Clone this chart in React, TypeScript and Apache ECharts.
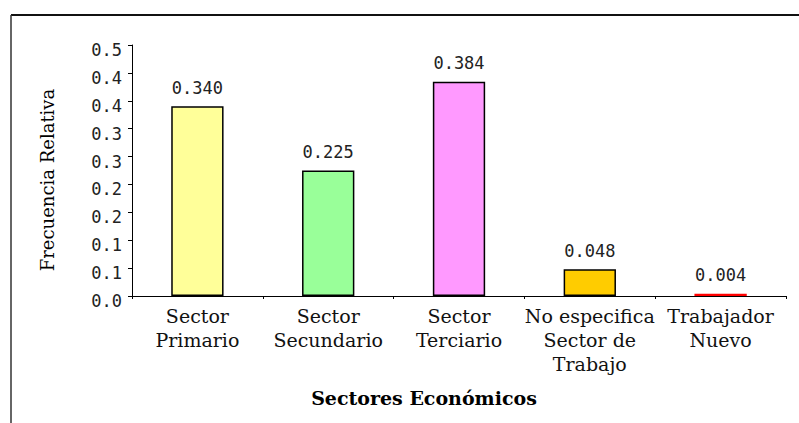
import React, { useEffect, useRef } from "react";
import * as echarts from "echarts";

const categories = [
  "Sector\nPrimario",
  "Sector\nSecundario",
  "Sector\nTerciario",
  "No especifica\nSector de\nTrabajo",
  "Trabajador\nNuevo",
];
const values = [0.34, 0.225, 0.384, 0.048, 0.004];
const barColors = ["#FFFF99", "#99FF99", "#FF99FF", "#FFCC00", "#FF0000"];
const barBorders = ["#000000", "#000000", "#000000", "#000000", "#FF0000"];
const yTickLabels = ["0.0", "0.1", "0.1", "0.2", "0.2", "0.3", "0.3", "0.4", "0.4", "0.5"];
const yTitle = "Frecuencia Relativa";
const xTitle = "Sectores Económicos";

export default function App() {
  const ref = useRef<HTMLDivElement>(null);
  useEffect(() => {
    if (!ref.current) return;
    const chart = echarts.init(ref.current, null, { renderer: "svg" });
    chart.setOption({
      animation: false,
      backgroundColor: "#ffffff",
      grid: { left: 132, right: 13, top: 45, bottom: 127, containLabel: false },
      xAxis: {
        type: "category",
        data: categories,
        axisLine: { lineStyle: { color: "#000", width: 1 } },
        axisTick: { show: true, length: 3, lineStyle: { color: "#000" } },
        axisLabel: {
          interval: 0,
          margin: 8,
          fontFamily: "DejaVu Serif",
          fontSize: 19,
          lineHeight: 24,
          color: "#111",
        },
      },
      yAxis: {
        type: "value",
        min: 0,
        max: 0.45,
        interval: 0.05,
        splitLine: { show: false },
        axisLine: { show: true, lineStyle: { color: "#000", width: 1 } },
        axisTick: { show: true, length: 4, lineStyle: { color: "#000" } },
        axisLabel: {
          margin: 10,
          fontFamily: "DejaVu Sans Mono",
          fontSize: 17,
          color: "#222",
          verticalAlign: "top",
          lineHeight: 10,
          formatter: (v: number) => yTickLabels[Math.round(v / 0.05)] ?? "",
        },
      },
      series: [
        {
          type: "bar",
          barWidth: "40%",
          data: values.map((v, i) => ({
            value: v,
            itemStyle: { color: barColors[i], borderColor: barBorders[i], borderWidth: 1.5 },
          })),
          label: {
            show: true,
            position: "top",
            distance: 10,
            fontFamily: "DejaVu Sans Mono",
            fontSize: 17,
            color: "#222",
            formatter: (p: any) => Number(p.value).toFixed(3),
          },
        },
      ],
      graphic: [
        { type: "line", shape: { x1: 11, y1: 15, x2: 799, y2: 15 }, style: { stroke: "#111", lineWidth: 2 } },
        { type: "line", shape: { x1: 11, y1: 15, x2: 11, y2: 423 }, style: { stroke: "#333", lineWidth: 1.5 } },
        {
          type: "text",
          x: 47,
          y: 180,
          rotation: Math.PI / 2,
          style: {
            text: yTitle,
            align: "center",
            verticalAlign: "middle",
            fontFamily: "DejaVu Serif",
            fontSize: 18,
            fill: "#000",
          },
        },
        {
          type: "text",
          x: 424,
          y: 398,
          style: {
            text: xTitle,
            align: "center",
            verticalAlign: "middle",
            fontFamily: "DejaVu Serif",
            fontWeight: "bold",
            fontSize: 19,
            fill: "#000",
          },
        },
      ],
    });
    return () => chart.dispose();
  }, []);
  return (
    <div
      ref={ref}
      style={{ position: "fixed", left: 0, top: 0, width: 799, height: 423 }}
    />
  );
}
